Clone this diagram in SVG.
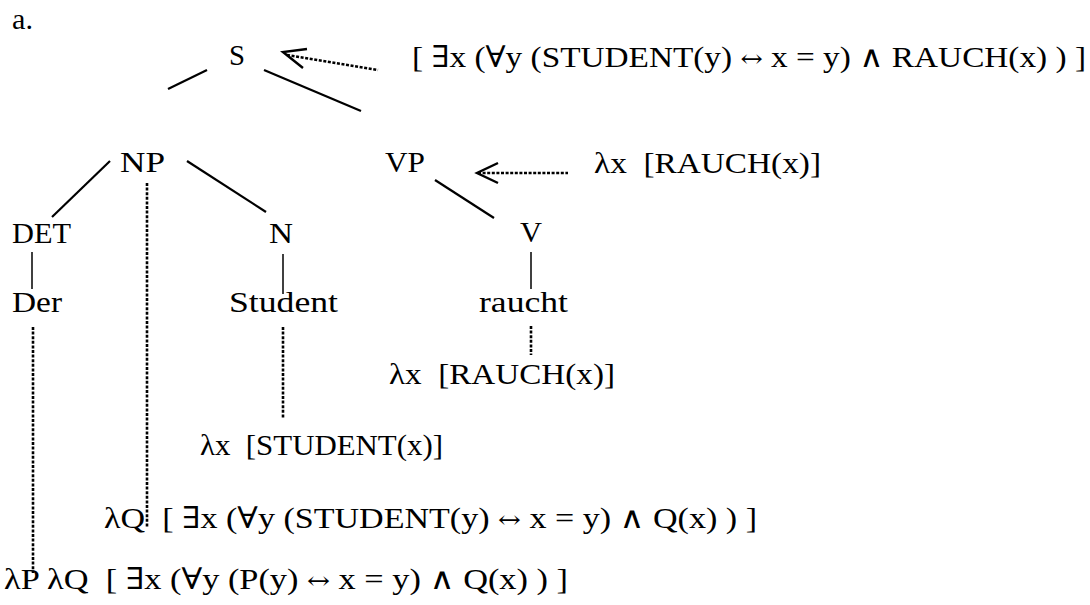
<svg xmlns="http://www.w3.org/2000/svg" width="1090" height="605" viewBox="0 0 1090 605">
<style>
text{font-family:"Liberation Serif","DejaVu Serif",serif;font-size:30px;fill:#000;white-space:pre}
.sym{font-family:"DejaVu Serif",serif;font-size:24px}
.t{stroke:#000;stroke-width:2.2;fill:none;stroke-linecap:butt}
.v{stroke:#000;stroke-width:1.5;fill:none}
.d{stroke:#000;stroke-width:2.6;fill:none;stroke-dasharray:3 1.6}
.h{stroke:#000;stroke-width:2.4;fill:none;stroke-linejoin:miter}
</style>
<rect width="1090" height="605" fill="#fff"/>
<g id="label-a"><text x="12" y="29" textLength="21" lengthAdjust="spacingAndGlyphs">a.</text></g>
<g id="node-S"><text x="229" y="65" textLength="16" lengthAdjust="spacingAndGlyphs">S</text></g>
<g id="sem-S"><text x="412" y="67" textLength="674" lengthAdjust="spacingAndGlyphs">[ ∃x (∀y (STUDENT(y) <tspan class="sym">↔</tspan> x = y) ∧ RAUCH(x) ) ]</text></g>
<g id="node-NP"><text x="120" y="172" textLength="45" lengthAdjust="spacingAndGlyphs">NP</text></g>
<g id="node-VP"><text x="385" y="172" textLength="40" lengthAdjust="spacingAndGlyphs">VP</text></g>
<g id="sem-VP"><text x="594" y="173" textLength="227" lengthAdjust="spacingAndGlyphs">λx  [RAUCH(x)]</text></g>
<g id="node-DET"><text x="12" y="243" textLength="59" lengthAdjust="spacingAndGlyphs">DET</text></g>
<g id="node-N"><text x="269" y="243" textLength="24" lengthAdjust="spacingAndGlyphs">N</text></g>
<g id="node-V"><text x="520" y="242" textLength="22" lengthAdjust="spacingAndGlyphs">V</text></g>
<g id="node-Der"><text x="12" y="312" textLength="50" lengthAdjust="spacingAndGlyphs">Der</text></g>
<g id="node-Student"><text x="229" y="312" textLength="109" lengthAdjust="spacingAndGlyphs">Student</text></g>
<g id="node-raucht"><text x="479" y="312" textLength="89" lengthAdjust="spacingAndGlyphs">raucht</text></g>
<g id="sem-raucht"><text x="389" y="384" textLength="226" lengthAdjust="spacingAndGlyphs">λx  [RAUCH(x)]</text></g>
<g id="sem-Student"><text x="200" y="455" textLength="243" lengthAdjust="spacingAndGlyphs">λx  [STUDENT(x)]</text></g>
<g id="sem-NP"><text x="104" y="528" textLength="653" lengthAdjust="spacingAndGlyphs">λQ  [ ∃x (∀y (STUDENT(y) <tspan class="sym">↔</tspan> x = y) ∧ Q(x) ) ]</text></g>
<g id="sem-Der"><text x="4" y="589" textLength="564" lengthAdjust="spacingAndGlyphs">λP λQ  [ ∃x (∀y (P(y) <tspan class="sym">↔</tspan> x = y) ∧ Q(x) ) ]</text></g>
<g id="connectors">
<line class="t" x1="168" y1="89" x2="207" y2="70"/>
<line class="t" x1="264" y1="70" x2="361" y2="111"/>
<line class="t" x1="52" y1="217" x2="110" y2="161"/>
<line class="t" x1="187" y1="161" x2="266" y2="212"/>
<line class="t" x1="435" y1="180" x2="494" y2="218"/>
<line class="v" x1="32" y1="252" x2="32" y2="289"/>
<line class="v" x1="283" y1="254" x2="283" y2="294"/>
<line class="v" x1="531" y1="252" x2="531" y2="289"/>
<line class="d" x1="147" y1="183" x2="147" y2="528"/>
<line class="d" x1="33" y1="327" x2="33" y2="573"/>
<line class="d" x1="283" y1="327" x2="283" y2="418"/>
<line class="d" x1="531" y1="326" x2="531" y2="355"/>
<line class="d" x1="287" y1="55" x2="378" y2="70"/>
<polyline class="h" points="307,49 283,52 303,68"/>
<line class="d" x1="478" y1="173" x2="568" y2="173"/>
<polyline class="h" points="498,163 477,173 498,183"/>
</g>
</svg>
